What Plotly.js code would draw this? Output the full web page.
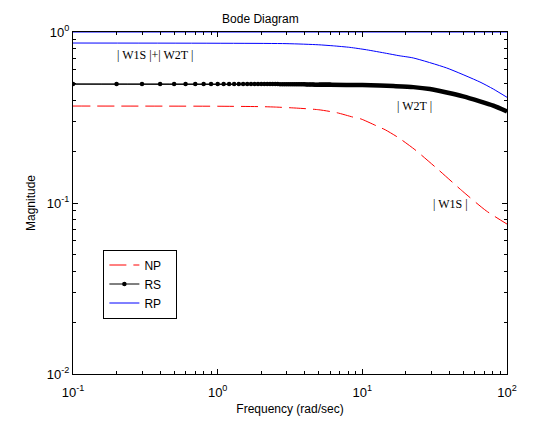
<!DOCTYPE html>
<html>
<head>
<meta charset="utf-8">
<script src="https://cdn.plot.ly/plotly-3.0.1.min.js"></script>
<style>html,body{margin:0;padding:0;background:#fff;}#chart{width:560px;height:440px;}</style>
</head>
<body>
<div id="chart"></div>
<script>
// NP = |W1S|  (red dashed)
var npFreq = [0.1, 1, 2, 2.5, 3.5, 5, 6.7, 8.6, 9.8, 12.6, 14.4, 17.9, 23.1, 33.4, 49.4, 71.8, 100];
var npMag  = [0.369, 0.368, 0.366, 0.364, 0.359, 0.351, 0.337, 0.318, 0.310, 0.282, 0.268, 0.240, 0.205, 0.157, 0.117, 0.090, 0.0753];

// RS = |W2T|  (black, dots at every sample)
var rsFreq = [0.1, 1, 3, 5, 6, 10, 13.2, 16.4, 22.5, 29.3, 38.3, 49.8, 65, 80.4, 100];
var rsMag  = [0.496, 0.496, 0.495, 0.492, 0.491, 0.490, 0.487, 0.483, 0.476, 0.464, 0.443, 0.420, 0.393, 0.371, 0.343];
var rsMarkFreq = [0.1,0.2,0.3,0.4,0.5,0.6,0.7,0.8,0.9,1.0,1.1,1.2,1.3,1.4,1.5,1.6,1.7,1.8,1.9,2.0,
                  2.1,2.2,2.3,2.4,2.5,2.6,2.7,2.8,2.9,3.0,3.1,3.2,3.3,3.4,3.5,3.6,3.7,3.8,3.9,4.0,
                  4.1,4.2,4.3,4.4,4.5,4.6,4.7,4.8,4.9,5.0,5.1,5.2,5.3,5.4,5.5,5.6,5.7,5.8,5.9,6.0];
var rsMarkMag  = [0.496,0.496,0.496,0.496,0.496,0.496,0.496,0.496,0.496,0.496,0.496,0.496,0.496,0.496,0.496,0.496,0.496,0.496,0.496,0.496,
                  0.496,0.496,0.496,0.496,0.496,0.496,0.495,0.495,0.495,0.495,0.495,0.495,0.495,0.495,0.494,0.494,0.494,0.494,0.494,0.494,
                  0.493,0.493,0.493,0.493,0.493,0.493,0.492,0.492,0.492,0.492,0.492,0.492,0.492,0.491,0.491,0.491,0.491,0.491,0.491,0.491];

// RP = |W1S| + |W2T|  (blue)
var rpFreq = [0.1, 2.97, 4.96, 6.3, 8.2, 10.7, 14.7, 17.9, 22.5, 38.3, 65, 80.4, 100];
var rpMag  = [0.862, 0.855, 0.842, 0.830, 0.813, 0.787, 0.750, 0.727, 0.705, 0.616, 0.51, 0.464, 0.415];

// unit reference line
var refFreq = [0.1, 100];
var refMag = [1, 1];

var xTickVals = [0.1, 1, 10, 100];
var xTickText = ['10<sup>-1</sup>', '10<sup>0</sup>', '10<sup>1</sup>', '10<sup>2</sup>'];
var yTickVals = [0.01, 0.1, 1];
var yTickText = ['10<sup>-2</sup>', '10<sup>-1</sup>', '10<sup>0</sup>'];

var labels = ['| W1S |+| W2T |', '| W2T |', '| W1S |'];
var legendNames = ['NP', 'RS', 'RP'];

function minorVals(decades) {
  var v = [];
  decades.forEach(function (d) { for (var k = 2; k <= 9; k++) v.push(d * k); });
  return v;
}

var FONT = 'Liberation Sans, Arial, Helvetica, sans-serif';
var SERIF = 'Liberation Serif, Times New Roman, serif';
var PAD = '\u00a0\u00a0\u00a0';

var traces = [
  {x: refFreq, y: refMag, mode: 'lines', line: {color: '#0000ff', width: 1}, showlegend: false, hoverinfo: 'skip'},
  {x: npFreq, y: npMag, mode: 'lines', name: legendNames[0] + PAD, line: {color: '#ff0000', width: 1, dash: '17px,7px', shape: 'spline', smoothing: 0.6}},
  {x: rsMarkFreq, y: rsMarkMag, mode: 'lines+markers', name: legendNames[1] + PAD, line: {color: '#000000', width: 1},
   marker: {color: '#000000', size: 4.5, symbol: 'circle'}},
  {x: rsFreq.slice(3), y: rsMag.slice(3), mode: 'lines', showlegend: false, line: {color: '#000000', width: 4.5, shape: 'spline', smoothing: 0.6}},
  {x: rsFreq, y: rsMag, mode: 'lines', showlegend: false, line: {color: '#000000', width: 1, shape: 'spline', smoothing: 0.6}},
  {x: rpFreq, y: rpMag, mode: 'lines', name: legendNames[2] + PAD, line: {color: '#0000ff', width: 1, shape: 'spline', smoothing: 0.6}}
];

var layout = {
  width: 560, height: 440,
  margin: {l: 73, r: 53, t: 32, b: 66},
  paper_bgcolor: '#ffffff', plot_bgcolor: '#ffffff',
  font: {family: FONT, size: 12, color: '#000'},
  title: {text: 'Bode Diagram', font: {family: FONT, size: 12}, xref: 'container', x: 0.465, xanchor: 'center', yref: 'container', y: 0.957, yanchor: 'middle'},
  xaxis: {
    type: 'log', range: [-1, 2], showgrid: false, zeroline: false,
    showline: true, linecolor: '#000', linewidth: 1, mirror: 'ticks',
    ticks: 'inside', ticklen: 5, tickcolor: '#000',
    tickmode: 'array', tickvals: xTickVals, ticktext: xTickText,
    tickfont: {family: FONT, size: 13}, ticklabelstandoff: 6,
    minor: {tickmode: 'array', tickvals: minorVals([0.1, 1, 10]), ticks: 'inside', ticklen: 3, tickcolor: '#000', showgrid: false},
    title: {text: 'Frequency (rad/sec)', font: {family: FONT, size: 12}, standoff: 6}
  },
  yaxis: {
    type: 'log', range: [-2, 0], showgrid: false, zeroline: false,
    showline: true, linecolor: '#000', linewidth: 1, mirror: 'ticks',
    ticks: 'inside', ticklen: 5, tickcolor: '#000',
    tickmode: 'array', tickvals: yTickVals, ticktext: yTickText,
    tickfont: {family: FONT, size: 13},
    minor: {tickmode: 'array', tickvals: minorVals([0.01, 0.1]), ticks: 'inside', ticklen: 3, tickcolor: '#000', showgrid: false},
    title: {text: 'Magnitude', font: {family: FONT, size: 12}, standoff: 8}
  },
  legend: {
    x: 0.07, y: 0.364, xanchor: 'left', yanchor: 'top',
    bordercolor: '#000', borderwidth: 1, bgcolor: '#fff',
    font: {family: FONT, size: 12}, tracegroupgap: 0
  },
  annotations: [
    {text: labels[0], xref: 'paper', yref: 'paper', x: 0.19, y: 0.933, xanchor: 'center', yanchor: 'middle', showarrow: false, font: {family: SERIF, size: 12}},
    {text: labels[1], xref: 'paper', yref: 'paper', x: 0.787, y: 0.784, xanchor: 'center', yanchor: 'middle', showarrow: false, font: {family: SERIF, size: 12}},
    {text: labels[2], xref: 'paper', yref: 'paper', x: 0.869, y: 0.497, xanchor: 'center', yanchor: 'middle', showarrow: false, font: {family: SERIF, size: 12}}
  ],
  showlegend: true
};

Plotly.newPlot('chart', traces, layout, {staticPlot: true, displayModeBar: false});
</script>
</body>
</html>
